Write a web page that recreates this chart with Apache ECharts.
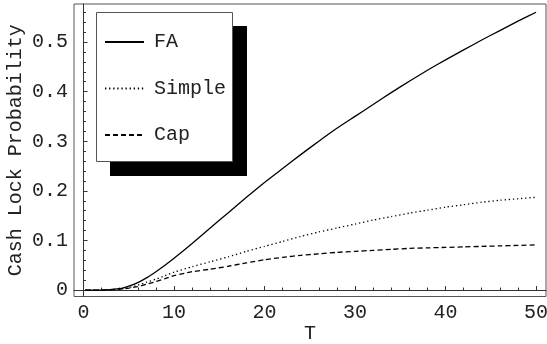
<!DOCTYPE html>
<html>
<head>
<meta charset="utf-8">
<script src="https://cdn.jsdelivr.net/npm/echarts@6/dist/echarts.min.js"></script>
<style>html,body{margin:0;padding:0;background:#fff}#c{width:547px;height:344px}</style>
</head>
<body>
<div id="c"></div>
<script>
var T = [0.2, 2, 4, 5, 6, 7, 8, 9, 10, 12, 14, 16, 18, 20, 22, 24, 26, 28, 30, 32, 34, 36, 38, 40, 42, 44, 46, 48, 50];
var FA = [0, 0, 0.003, 0.008, 0.015, 0.025, 0.037, 0.05, 0.064, 0.094, 0.125, 0.156, 0.187, 0.217, 0.245, 0.273, 0.300, 0.326, 0.350, 0.374, 0.398, 0.421, 0.443, 0.464, 0.484, 0.504, 0.523, 0.542, 0.560];
var Simple = [0, 0, 0.002, 0.005, 0.010, 0.016, 0.022, 0.029, 0.036, 0.047, 0.057, 0.067, 0.078, 0.088, 0.098, 0.108, 0.117, 0.125, 0.133, 0.141, 0.148, 0.155, 0.161, 0.167, 0.172, 0.177, 0.181, 0.184, 0.187];
var Cap = [0, 0, 0.002, 0.004, 0.007, 0.012, 0.017, 0.023, 0.029, 0.037, 0.042, 0.048, 0.055, 0.061, 0.066, 0.070, 0.073, 0.076, 0.078, 0.080, 0.082, 0.084, 0.085, 0.086, 0.087, 0.088, 0.089, 0.090, 0.091];
var xMajor = [0, 10, 20, 30, 40, 50];
var xMinor = [2, 4, 6, 8, 12, 14, 16, 18, 22, 24, 26, 28, 32, 34, 36, 38, 42, 44, 46, 48];
var yMajor = [0, 0.1, 0.2, 0.3, 0.4, 0.5];
var yMinor = [0.02, 0.04, 0.06, 0.08, 0.12, 0.14, 0.16, 0.18, 0.22, 0.24, 0.26, 0.28, 0.32, 0.34, 0.36, 0.38, 0.42, 0.44, 0.46, 0.48, 0.52, 0.54, 0.56];
var seriesNames = ['FA', 'Simple', 'Cap'];
var xLabel = 'T';
var yLabel = 'Cash Lock Probability';

function pairs(ys) { return T.map(function (t, i) { return [t, ys[i]]; }); }

var FONT = '"Liberation Mono", "Courier New", monospace';
var chart = echarts.init(document.getElementById('c'), null, {renderer: 'canvas'});
var xMin = -1.05, xMax = 51.1, yMin = -0.013, yMax = 0.5766;

function axisBase(extra) {
  var o = {type: 'value', splitLine: {show: false}, nameMoveOverlap: false};
  for (var k in extra) o[k] = extra[k];
  return o;
}

chart.setOption({
  animation: false,
  backgroundColor: '#fff',
  textStyle: {fontFamily: FONT},
  grid: {left: 74, top: 4, right: 1, bottom: 47.5, show: true, borderColor: '#555', borderWidth: 1, containLabel: false, outerBoundsMode: 'none'},
  xAxis: [
    axisBase({min: xMin, max: xMax, position: 'bottom',
      name: xLabel, nameLocation: 'middle', nameGap: 27,
      nameTextStyle: {fontFamily: FONT, fontSize: 20, color: '#222'},
      axisLine: {show: true, lineStyle: {color: '#333', width: 1}},
      axisTick: {show: true, inside: true, length: 4, customValues: xMajor, lineStyle: {color: '#333'}},
      axisLabel: {show: true, customValues: xMajor, margin: 6, fontFamily: FONT, fontSize: 20, color: '#222', showMinLabel: true, showMaxLabel: true, hideOverlap: false}
    }),
    axisBase({min: xMin, max: xMax, position: 'bottom',
      axisLine: {show: false},
      axisTick: {show: true, inside: true, length: 2.5, customValues: xMinor, lineStyle: {color: '#333'}},
      axisLabel: {show: false}
    })
  ],
  yAxis: [
    axisBase({min: yMin, max: yMax, position: 'left',
      name: yLabel, nameLocation: 'middle', nameGap: 48, nameRotate: 90,
      nameTextStyle: {fontFamily: FONT, fontSize: 20, color: '#222'},
      axisLine: {show: true, lineStyle: {color: '#333', width: 1}},
      axisTick: {show: true, inside: true, length: 4, customValues: yMajor, lineStyle: {color: '#333'}},
      axisLabel: {show: true, customValues: yMajor, margin: 6, fontFamily: FONT, fontSize: 20, color: '#222', showMinLabel: true, showMaxLabel: true, hideOverlap: false}
    }),
    axisBase({min: yMin, max: yMax, position: 'left',
      axisLine: {show: false},
      axisTick: {show: true, inside: true, length: 2.5, customValues: yMinor, lineStyle: {color: '#333'}},
      axisLabel: {show: false}
    })
  ],
  graphic: [
    {type: 'rect', z: 3, shape: {x: 110, y: 26, width: 137, height: 150}, style: {fill: '#000'}},
    {type: 'rect', z: 3, shape: {x: 96.5, y: 12.5, width: 136, height: 149}, style: {fill: '#fff', stroke: '#555', lineWidth: 1}}
  ],
  legend: {
    z: 5, orient: 'vertical', left: 104, top: 32, padding: 0, itemWidth: 39, itemHeight: 20, itemGap: 26.5,
    data: seriesNames,
    itemStyle: {color: 'rgba(0,0,0,0)', borderWidth: 0, opacity: 0},
    textStyle: {fontFamily: FONT, fontSize: 20, color: '#222', lineHeight: 20, padding: [0, 0, 0, 5]},
    selectedMode: false
  },
  series: [
    {name: seriesNames[0], type: 'line', data: pairs(FA), symbol: 'none', smooth: 0.2, xAxisIndex: 0, yAxisIndex: 0,
      lineStyle: {color: '#000', width: 1.3, type: 'solid'}, itemStyle: {color: '#000'}},
    {name: seriesNames[1], type: 'line', data: pairs(Simple), symbol: 'none', smooth: 0.2, xAxisIndex: 0, yAxisIndex: 0,
      lineStyle: {color: '#000', width: 1.3, type: [1.3, 2.8]}, itemStyle: {color: '#000'}},
    {name: seriesNames[2], type: 'line', data: pairs(Cap), symbol: 'none', smooth: 0.2, xAxisIndex: 0, yAxisIndex: 0,
      lineStyle: {color: '#000', width: 1.3, type: [5, 3]}, itemStyle: {color: '#000'}}
  ]
});
</script>
</body>
</html>
